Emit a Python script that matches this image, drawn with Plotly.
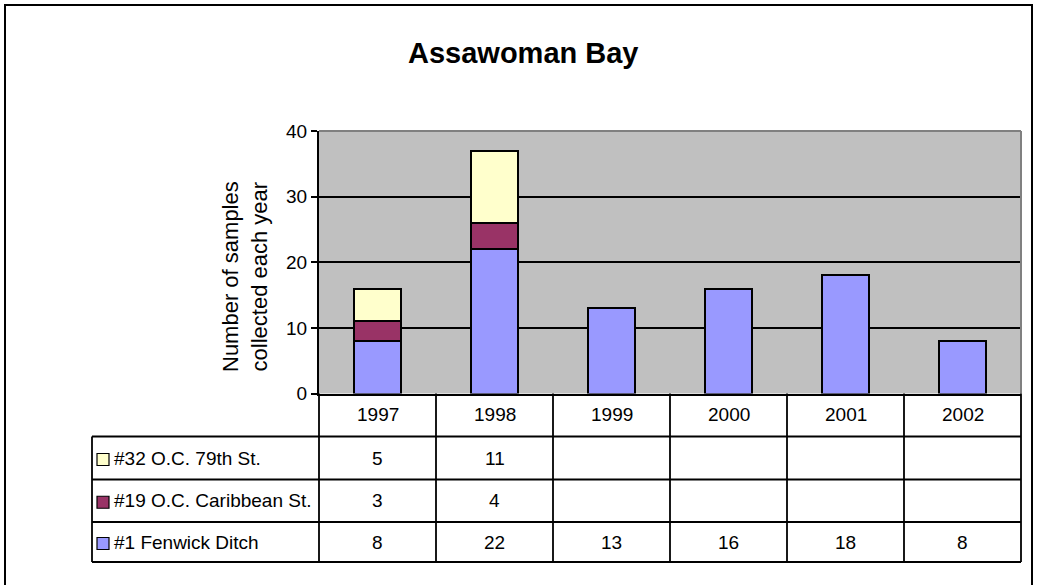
import plotly.graph_objects as go

# ---- data ----
years = ["1997", "1998", "1999", "2000", "2001", "2002"]
fenwick = [8, 22, 13, 16, 18, 8]
caribbean = [3, 4, None, None, None, None]
st79 = [5, 11, None, None, None, None]
series_names = ["#1 Fenwick Ditch", "#19 O.C. Caribbean St.", "#32 O.C. 79th St."]
series_colors = ["#9999FF", "#993366", "#FFFFCC"]
y_ticks = [0, 10, 20, 30, 40]
chart_title = "Assawoman Bay"
y_title = "Number of samples<br>collected each year"

series_values = [fenwick, caribbean, st79]

# ---- layout helpers (pixel -> paper) ----
W, H = 1038, 585
def px(x):
    return x / W
def py(y):
    return 1 - y / H

X0, X1 = px(319), px(1021)       # plot area horizontal domain
Y0, Y1 = py(393.5), py(131)      # plot area vertical domain
FONT = "Liberation Sans, Arial, sans-serif"

fig = go.Figure()
for name, vals, col in zip(series_names, series_values, series_colors):
    fig.add_trace(go.Bar(
        x=years, y=vals, name=name,
        marker=dict(color=col, line=dict(color="black", width=2)),
        showlegend=False, hoverinfo="skip",
    ))

fig.update_layout(
    width=W, height=H,
    margin=dict(l=0, r=0, t=0, b=0),
    paper_bgcolor="white", plot_bgcolor="#C0C0C0",
    barmode="stack", bargap=0.59,
    font=dict(family=FONT, size=17, color="black"),
    xaxis=dict(domain=[X0, X1], type="category", range=[-0.5, len(years) - 0.5],
               showticklabels=False, showgrid=False, zeroline=False,
               showline=True, linecolor="black", linewidth=2, ticks="",
               automargin=False, fixedrange=True),
    yaxis=dict(domain=[Y0, Y1], range=[0, 40], tickvals=y_ticks,
               showgrid=True, gridcolor="black", gridwidth=1.8, zeroline=False,
               showline=True, linecolor="black", linewidth=2,
               ticks="outside", ticklen=6, tickwidth=1.5, tickcolor="black",
               tickfont=dict(family=FONT, size=19, color="black"),
               automargin=False, fixedrange=True),
)

shapes = []
# outer chart border
shapes.append(dict(type="rect", xref="paper", yref="paper",
                   x0=px(5), x1=px(1032), y0=py(592), y1=py(5),
                   line=dict(color="black", width=2), layer="below"))
# plot area top / right border (gray)
shapes.append(dict(type="line", xref="paper", yref="paper",
                   x0=X0, x1=X1, y0=Y1, y1=Y1,
                   line=dict(color="#808080", width=2), layer="above"))
shapes.append(dict(type="line", xref="paper", yref="paper",
                   x0=X1, x1=X1, y0=Y0, y1=Y1,
                   line=dict(color="#808080", width=2), layer="above"))

# ---- data table ----
n = len(years)
def colx(i):
    return X0 + i * (X1 - X0) / n

row_lines = [436.5, 479.5, 522, 562]
table_left = 92
table_bottom = 562
# vertical column lines
for i in range(n + 1):
    shapes.append(dict(type="line", xref="paper", yref="paper",
                       x0=colx(i), x1=colx(i), y0=Y0, y1=py(table_bottom),
                       line=dict(color="black", width=1.8)))
# table left border
shapes.append(dict(type="line", xref="paper", yref="paper",
                   x0=px(table_left), x1=px(table_left), y0=py(row_lines[0]), y1=py(table_bottom),
                   line=dict(color="black", width=1.8)))
# horizontal row lines
for ry in row_lines:
    shapes.append(dict(type="line", xref="paper", yref="paper",
                       x0=px(table_left), x1=X1, y0=py(ry), y1=py(ry),
                       line=dict(color="black", width=1.8)))

annotations = []
# title
annotations.append(dict(text="<b>" + chart_title + "</b>", xref="paper", yref="paper",
                        x=px(523), y=py(53), xanchor="center", yanchor="middle",
                        showarrow=False, font=dict(family=FONT, size=29, color="black")))
# y-axis title
annotations.append(dict(text=y_title, xref="paper", yref="paper",
                        x=px(245), y=py(277), xanchor="center", yanchor="middle",
                        textangle=-90, showarrow=False,
                        font=dict(family=FONT, size=22, color="black")))
# header years (category index positions on the x axis)
for i, yr in enumerate(years):
    annotations.append(dict(text=yr, xref="x", yref="paper", x=i, y=py(414.5),
                            xanchor="center", yanchor="middle", showarrow=False,
                            font=dict(family=FONT, size=19, color="black")))

# table rows (top to bottom: 79th, Caribbean, Fenwick)
row_order = [2, 1, 0]
for r, si in enumerate(row_order):
    top, bot = row_lines[r], row_lines[r + 1]
    cy = (top + bot) / 2
    # legend key square
    shapes.append(dict(type="rect", xref="paper", yref="paper",
                       x0=px(97), x1=px(109), y0=py(cy + 7.5), y1=py(cy - 4.5),
                       fillcolor=series_colors[si], line=dict(color="black", width=1.2)))
    annotations.append(dict(text=series_names[si], xref="paper", yref="paper",
                            x=px(112), y=py(cy), xanchor="left", yanchor="middle",
                            showarrow=False, font=dict(family=FONT, size=19, color="black")))
    for i, v in enumerate(series_values[si]):
        if v is None:
            continue
        annotations.append(dict(text=str(v), xref="x", yref="paper", x=i, y=py(cy),
                                xanchor="center", yanchor="middle", showarrow=False,
                                font=dict(family=FONT, size=19, color="black")))

fig.update_layout(shapes=shapes, annotations=annotations)
fig.write_html("out.html", config={"displayModeBar": False},
               post_script="document.body.style.margin='0';")
